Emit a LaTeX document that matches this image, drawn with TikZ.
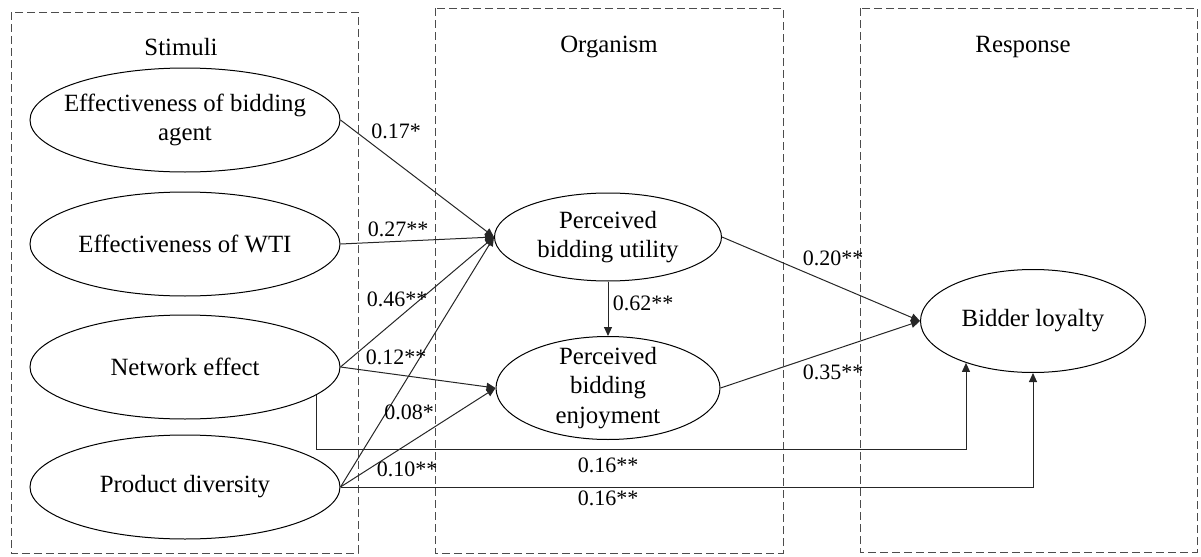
\documentclass[tikz,border=0pt]{standalone}
\usepackage{fontspec}
\setmainfont{Liberation Serif}
\usetikzlibrary{arrows.meta,calc,shapes.geometric,positioning}

\begin{document}
\begin{tikzpicture}[
      x=0.5pt,y=-0.5pt,
      font=\fontsize{12.4}{14.6}\selectfont,
      >={Triangle[length=4.5pt,width=4pt]},
      groupbox/.style={draw=black!70,dash pattern=on 4pt off 2pt,line width=0.5pt},
      construct/.style={ellipse,draw,line width=0.5pt,inner sep=0pt},
      arr/.style={->,line width=0.5pt,draw=black!85},
      coef/.style={font=\fontsize{11}{13}\selectfont,inner sep=1pt}
    ]
      \useasboundingbox (0,0) rectangle (1201,557);
      % S-O-R groups
      \draw[groupbox] (11,12) rectangle (358,553);
      \draw[groupbox] (435,8) rectangle (783,553);
      \draw[groupbox] (860,8) rectangle (1197,552);
      \node (stimuli) at (181,47) {Stimuli};
      \node (organism) at (609,47) {Organism};
      \node (response) at (1023,47) {Response};
      % constructs
      \node[construct,minimum width=155pt,minimum height=52pt,label={[align=center]center:Effectiveness of bidding\\agent}] (agent) at (185,120) {};
      \node[construct,minimum width=155pt,minimum height=52pt,label={center:Effectiveness of WTI}] (wti) at (185,244) {};
      \node[construct,minimum width=155pt,minimum height=52pt,label={center:Network effect}] (network) at (185,367) {};
      \node[construct,minimum width=155pt,minimum height=52pt,label={center:Product diversity}] (diversity) at (185,487) {};
      \node[construct,minimum width=113.5pt,minimum height=44pt,label={[align=center]center:Perceived\\bidding utility}] (utility) at (608,237) {};
      \node[construct,minimum width=112pt,minimum height=51.5pt,label={[align=center]center:Perceived\\bidding\\enjoyment}] (enjoy) at (608,388) {};
      \node[construct,minimum width=112.5pt,minimum height=51.5pt,label={center:Bidder loyalty}] (loyalty) at (1033,321) {};
      % paths
      \draw[arr] (agent.east) -- (utility.west);
      \draw[arr] (wti.east) -- (utility.west);
      \draw[arr] (network.east) -- (utility.west);
      \draw[arr] (diversity.east) -- (utility.west);
      \draw[arr] (network.east) -- (enjoy.west);
      \draw[arr] (diversity.east) -- (enjoy.west);
      \draw[arr] (utility.south) -- (enjoy.north);
      \draw[arr] (utility.east) -- (loyalty.west);
      \draw[arr] (enjoy.east) -- (loyalty.west);
      \coordinate (lowline) at (0,449);
      \draw[arr] (network.-12) |- (lowline -| loyalty.212) -- (loyalty.212);
      \draw[arr] (diversity.east) -| (loyalty.south);
      % coefficients
      \node[coef] (c1) at (396,131) {0.17*};
      \node[coef] (c2) at (398,229) {0.27**};
      \node[coef] (c3) at (397,299) {0.46**};
      \node[coef] (c4) at (396,357) {0.12**};
      \node[coef] (c5) at (409,412) {0.08*};
      \node[coef] (c6) at (407,469) {0.10**};
      \node[coef] (c7) at (643,303) {0.62**};
      \node[coef] (c8) at (608,465) {0.16**};
      \node[coef] (c9) at (608,498) {0.16**};
      \node[coef] (c10) at (833,258) {0.20**};
      \node[coef] (c11) at (833,372) {0.35**};
    \end{tikzpicture}
\end{document}
